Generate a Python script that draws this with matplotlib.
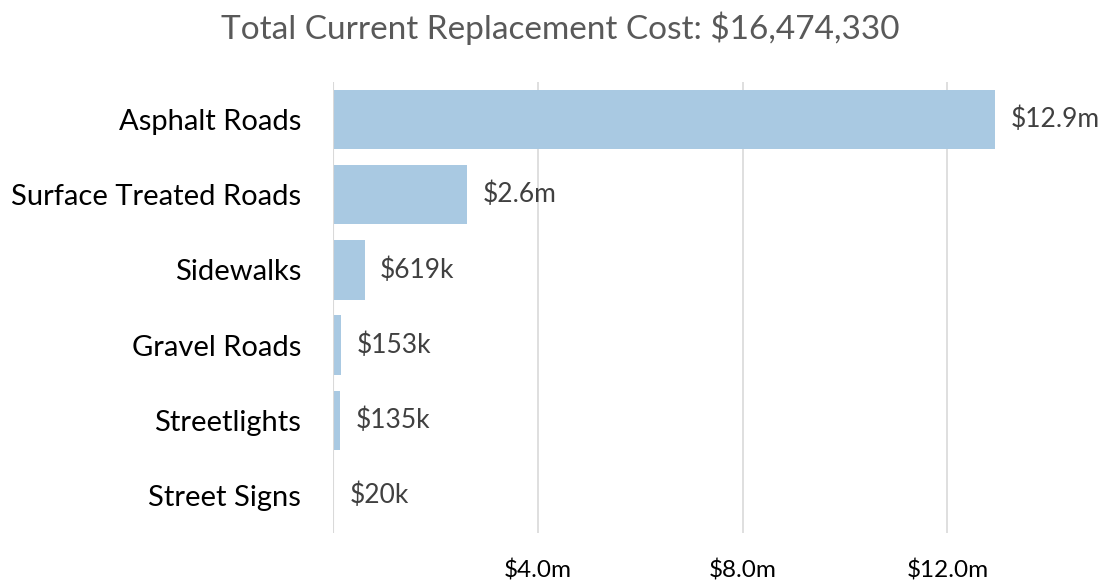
import matplotlib.pyplot as plt

# datos (millones)
categorias = ['Asphalt Roads', 'Surface Treated Roads', 'Sidewalks',
              'Gravel Roads', 'Streetlights', 'Street Signs']
valores = [12.93, 2.617, 0.619, 0.153, 0.135, 0.020]
etiquetas = ['$12.9m', '$2.6m', '$619k', '$153k', '$135k', '$20k']
ticks = [4.0, 8.0, 12.0]
tick_labels = ['$4.0m', '$8.0m', '$12.0m']
titulo = 'Total Current Replacement Cost: $16,474,330'

plt.rcParams['font.family'] = ['Lato', 'DejaVu Sans']

fig = plt.figure(figsize=(11.05, 5.8), dpi=100)
ax = fig.add_axes([0.3014, 0.081, 0.695, 0.778])

y = list(range(len(categorias)))
ax.barh(y, valores, height=0.79, color='#A9C9E2', zorder=2)
for yi, v, t in zip(y, valores, etiquetas):
    ax.text(v + 0.3, yi, t, va='center', ha='left', fontsize=19, color='#404040')

ax.set_ylim(len(categorias) - 0.5, -0.5)
ax.set_xlim(0, 15)
ax.set_yticks(y)
ax.set_yticklabels(categorias, fontsize=21, color='#000000')
ax.set_xticks(ticks)
ax.set_xticklabels(tick_labels, fontsize=17.5, color='#000000')
ax.tick_params(axis='y', length=0, pad=23)
ax.tick_params(axis='x', length=0, pad=19)
for x in ticks:
    ax.axvline(x, color='#D9D9D9', linewidth=1.2, zorder=1)
ax.axvline(0, color='#D9D9D9', linewidth=1.5, zorder=3)
for s in ax.spines.values():
    s.set_visible(False)

fig.text(0.507, 0.952, titulo, ha='center', va='center', fontsize=24, color='#595959')

plt.savefig('out.png', dpi=100)
